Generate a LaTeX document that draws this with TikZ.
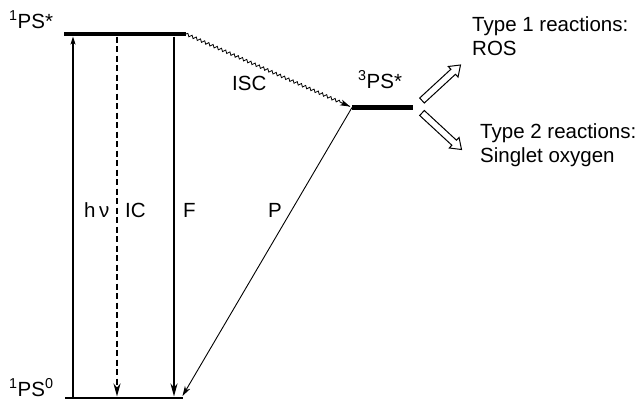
\documentclass[tikz,border=0pt]{standalone}
\usepackage{fontspec}
\setmainfont{Liberation Sans}
\usetikzlibrary{arrows.meta,calc,decorations.pathmorphing}
\begin{document}
\begin{tikzpicture}[x=1pt,y=-1pt,
  lbl/.style={anchor=base west,inner sep=0pt,font=\fontsize{20.5}{24}\selectfont},
  level/.style={line width=4.4pt},
  ground/.style={line width=2pt},
  trans/.style={line width=1.6pt,-{Stealth[length=13pt,width=7pt,inset=4pt]}},
  thin/.style={line width=0.9pt,-{Stealth[length=10pt,width=6pt,inset=3pt]}},
  wavy/.style={line width=0.8pt,decorate,decoration={snake,amplitude=1.4pt,segment length=4.6pt,post length=8pt},
    postaction={draw=none},-{Stealth[length=10pt,width=6pt,inset=3pt]}},
  openarrow/.style={line width=1pt,fill=white,line join=miter}
]
\useasboundingbox (0,0) rectangle (643,399);

% levels
\coordinate (s1l) at (64,34);
\coordinate (s1r) at (186,34);
\coordinate (s0l) at (65,398);
\coordinate (s0r) at (183,398);
\coordinate (t1l) at (352,107.5);
\coordinate (t1r) at (413,107.5);
\draw[level] (s1l) -- (s1r);
\draw[ground] (s0l) -- (s0r);
\draw[level] (t1l) -- (t1r);

% vertical transitions
\coordinate (hvb) at (73,397);
\coordinate (hvt) at (73,36.5);
\coordinate (ict) at (117,36.5);
\coordinate (icb) at (117,396.5);
\coordinate (ft) at (174,36.5);
\coordinate (fb) at (174,396.5);
\draw[trans,-{Stealth[length=8pt,width=5pt,inset=2pt]}] (hvb) -- (hvt);
\draw[trans,dashed,dash pattern=on 6pt off 3.5pt] (ict) -- (icb);
\draw[trans] (ft) -- (fb);

% phosphorescence
\coordinate (pt) at (352,107.5);
\coordinate (pb) at (182.5,396);
\draw[thin] (pt) -- (pb);

% ISC
\coordinate (isca) at (186,34);
\coordinate (iscb) at (350,106.5);
\draw[line width=0.8pt,decorate,decoration={snake,amplitude=1.4pt,segment length=4.6pt,post length=9pt}] (isca) -- (iscb);
\draw[line width=0.8pt,-{Stealth[length=10pt,width=6pt,inset=3pt]}] ($(iscb)!9pt!(isca)$) -- (iscb);

% open arrows
\foreach \ax/\ay/\bx/\by/\nm in {422/100.5/460.5/65/up, 422/113/461.5/149.5/dn}{
  \coordinate (A\nm) at (\ax,\ay);
  \coordinate (B\nm) at (\bx,\by);
  \coordinate (H\nm) at ($(B\nm)!10pt!(A\nm)$);
  \draw[openarrow] ($(A\nm)!3.4pt!90:(B\nm)$) -- ($(H\nm)!3.4pt!-90:(A\nm)$) -- ($(H\nm)!7.2pt!-90:(A\nm)$)
    -- (B\nm) -- ($(H\nm)!7.2pt!90:(A\nm)$) -- ($(H\nm)!3.4pt!90:(A\nm)$) -- ($(A\nm)!3.4pt!-90:(B\nm)$) -- cycle;
}

% labels
\node[lbl] (ls1) at (9,28) {\textsuperscript{1}PS*};
\node[lbl] (ls0) at (9,396) {\textsuperscript{1}PS\textsuperscript{0}};
\node[lbl] (lhv) at (84,217) {h\,ν};
\node[lbl] (lic) at (125,217) {IC};
\node[lbl] (lf) at (183,217) {F};
\node[lbl] (lp) at (268,217) {P};
\node[lbl] (lisc) at (232,90) {ISC};
\node[lbl] (lt1) at (358,88) {\textsuperscript{3}PS*};
\node[lbl,align=left] (ty1) at (472,55) {Type 1 reactions:\\ROS};
\node[lbl,align=left] (ty2) at (480,162) {Type 2 reactions:\\Singlet oxygen};
\end{tikzpicture}
\end{document}
